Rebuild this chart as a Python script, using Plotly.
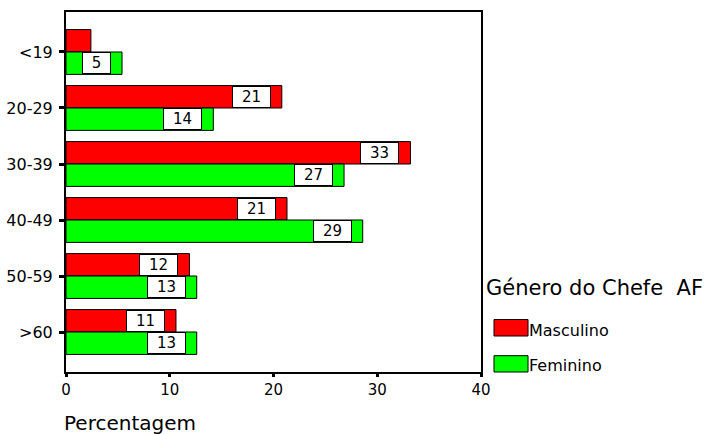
import plotly.graph_objects as go

# Age groups of the household head (top to bottom)
age_groups = ["<19", "20-29", "30-39", "40-49", "50-59", ">60"]

# Percentage of households per age group, by gender of the head
masculino = [2.4, 20.8, 33.2, 21.3, 11.9, 10.6]
feminino = [5.4, 14.2, 26.8, 28.6, 12.6, 12.6]

series_names = ["Masculino", "Feminino"]
series_colors = ["#FF0000", "#00FF00"]

x_ticks = [0, 10, 20, 30, 40]

FONT = "DejaVu Sans"

fig = go.Figure()
for name, vals, col in zip(series_names, [masculino, feminino], series_colors):
    fig.add_trace(go.Bar(
        y=age_groups, x=vals, name=name, orientation="h",
        marker=dict(color=col, line=dict(color="black", width=1)),
        showlegend=False, hoverinfo="x+y",
    ))

# White value boxes near the end of each bar
annotations = []
for k, vals in enumerate([masculino, feminino]):
    offset = -0.2 if k == 0 else 0.2
    for i, v in enumerate(vals):
        if v < 4:
            continue
        txt = f"{v:.0f}"
        annotations.append(dict(
            x=v, y=i + offset, xref="x", yref="y", text=txt,
            showarrow=False, xanchor="right", yanchor="middle", xshift=-11,
            font=dict(family=FONT, size=15, color="black"),
            bgcolor="white", bordercolor="black", borderwidth=1, borderpad=0,
            width=27 if len(txt) == 1 else 37, height=20, align="center",
        ))

# Axis title, left-aligned under the plot
annotations.append(dict(
    x=0, y=-0.142, xref="paper", yref="paper", text="Percentagem",
    showarrow=False, xanchor="left", yanchor="middle", xshift=-4,
    font=dict(family=FONT, size=20, color="black"),
))

# Legend block on the right
annotations.append(dict(
    x=1.0145, y=0.2333, xref="paper", yref="paper",
    text="Género do Chefe\u00a0\u00a0AF",
    showarrow=False, xanchor="left", yanchor="middle", xshift=-3,
    font=dict(family=FONT, size=21, color="black"),
))
shapes = []
legend_rows = [(0.100, 0.1458, 0.116), (0.0, 0.0453, 0.019)]
for (y0, y1, yt), name, col in zip(legend_rows, series_names, series_colors):
    shapes.append(dict(
        type="rect", xref="paper", yref="paper", x0=1.0313, x1=1.1133,
        y0=y0, y1=y1, fillcolor=col, line=dict(color="black", width=1),
    ))
    annotations.append(dict(
        x=1.1157, y=yt, xref="paper", yref="paper", text=name,
        showarrow=False, xanchor="left", yanchor="middle", xshift=-2,
        font=dict(family=FONT, size=16, color="black"),
    ))

fig.update_layout(
    width=719, height=434,
    margin=dict(l=66, r=238, t=12, b=62),
    paper_bgcolor="white", plot_bgcolor="white",
    barmode="group", bargap=0.2, bargroupgap=0,
    font=dict(family=FONT, size=15, color="black"),
    annotations=annotations, shapes=shapes,
    showlegend=False,
)
fig.update_xaxes(
    range=[0, 40], tickvals=x_ticks, showgrid=False, zeroline=False,
    showline=True, linecolor="black", linewidth=2, mirror=True,
    ticks="outside", ticklen=3, tickwidth=3, tickcolor="black",
    tickfont=dict(family=FONT, size=15), automargin=False,
)
fig.update_yaxes(
    type="category", range=[5.714, -0.714], showgrid=False, zeroline=False,
    showline=True, linecolor="black", linewidth=2, mirror=True,
    ticks="outside", ticklen=5, tickwidth=3, tickcolor="black",
    ticklabelstandoff=3, tickfont=dict(family=FONT, size=16), automargin=False,
)

fig.write_html("out.html")
